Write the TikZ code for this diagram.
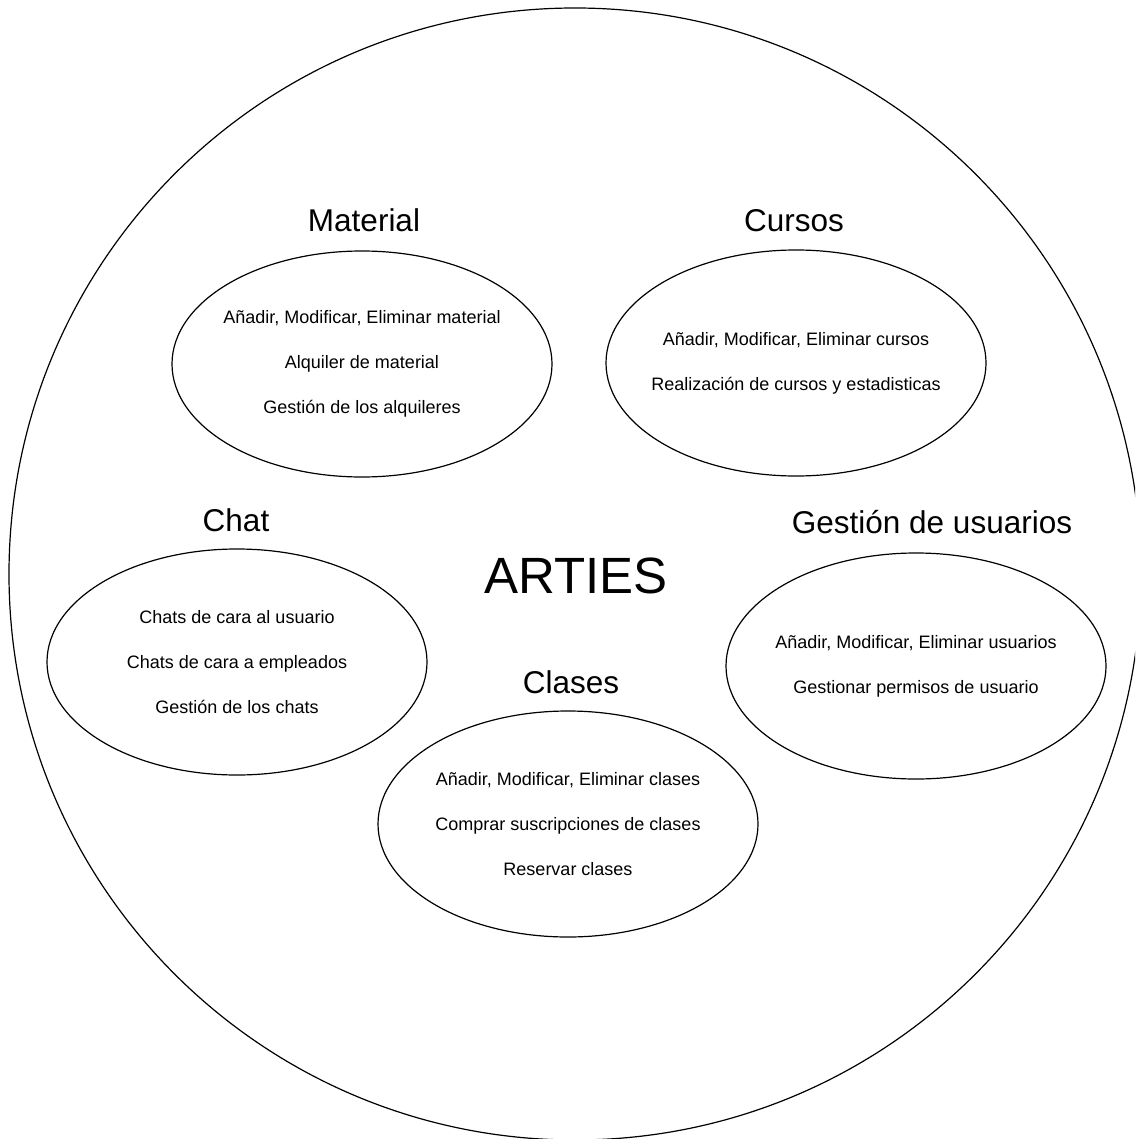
\documentclass[tikz,border=0pt]{standalone}
\usepackage{fontspec}
\setmainfont{Liberation Sans}
\usetikzlibrary{shapes.geometric}
\begin{document}
\begin{tikzpicture}[x=1pt,y=-1pt,
  outline/.style={draw=black, line width=1.2pt},
  area/.style={outline, ellipse, minimum width=380pt, minimum height=226pt, inner sep=0pt, outer sep=0pt},
  items/.style={align=center, inner sep=0pt, font=\fontsize{18}{45}\selectfont},
  heading/.style={anchor=base, inner sep=0pt, font=\fontsize{31.5}{36}\selectfont},
]
\useasboundingbox (0,0) rectangle (1135,1139);
\clip (0,0) rectangle (1135,1139);
\fill[white] (0,0) rectangle (1135,1139);

% system boundary
\node[outline, circle, minimum size=1132pt, inner sep=0pt] (system) at (575,574) {};
\node[anchor=base, inner sep=0pt, font=\fontsize{51}{56}\selectfont] (arties) at (576,593) {ARTIES};

% Material
\node[heading] (materialTitle) at (364,232) {Material};
\node[area] (material) at (362,364) {};
\node[items] (materialItems) at (material.center) {Añadir, Modificar, Eliminar material\\Alquiler de material\\Gestión de los alquileres};

% Cursos
\node[heading] (cursosTitle) at (794,232) {Cursos};
\node[area] (cursos) at (796,363) {};
\node[items] (cursosItems) at (cursos.center) {Añadir, Modificar, Eliminar cursos\\Realización de cursos y estadisticas};

% Chat
\node[heading] (chatTitle) at (236,531) {Chat};
\node[area] (chat) at (237,662) {};
\node[items] (chatItems) at (chat.center) {Chats de cara al usuario\\Chats de cara a empleados\\Gestión de los chats};

% Gestión de usuarios
\node[heading] (usuariosTitle) at (932,533) {Gestión de usuarios};
\node[area] (usuarios) at (916,666) {};
\node[items] (usuariosItems) at (usuarios.center) {Añadir, Modificar, Eliminar usuarios\\Gestionar permisos de usuario};

% Clases
\node[heading] (clasesTitle) at (571,693) {Clases};
\node[area] (clases) at (568,824) {};
\node[items] (clasesItems) at (clases.center) {Añadir, Modificar, Eliminar clases\\Comprar suscripciones de clases\\Reservar clases};
\end{tikzpicture}
\end{document}
